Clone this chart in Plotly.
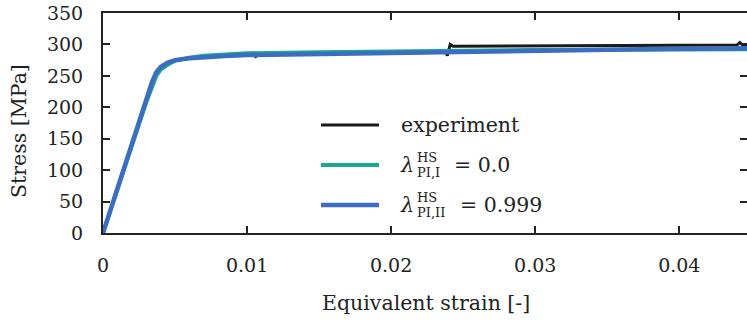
import plotly.graph_objects as go

# ---- data ----
strain_exp = [0, 0.0005, 0.001, 0.0015, 0.002, 0.0025, 0.003, 0.0033, 0.0036, 0.004,
              0.0045, 0.005, 0.006, 0.007, 0.0085, 0.0105, 0.0106, 0.0108, 0.013, 0.016,
              0.02, 0.0238, 0.0239, 0.0241, 0.0243, 0.028, 0.032, 0.036, 0.04, 0.0440,
              0.0442, 0.0444, 0.0447]
stress_exp = [0, 36, 72, 107, 142, 177, 210, 230, 250, 263,
              270, 274, 278, 280, 282, 284, 281, 284, 285, 286,
              287, 288, 282, 300, 297, 297.5, 298, 298.5, 299, 299,
              303, 299, 299]

strain_m1 = [0, 0.001, 0.002, 0.003, 0.0034, 0.0037, 0.004, 0.0045, 0.005, 0.006, 0.007,
             0.0085, 0.01, 0.015, 0.02, 0.025, 0.03, 0.035, 0.04, 0.0447]
stress_m1 = [0, 70, 140, 208, 232, 250, 260, 268, 274, 279, 282,
             284.5, 286, 287.5, 289, 290, 291, 291.5, 292, 292.5]

strain_m2 = [0, 0.001, 0.002, 0.003, 0.0034, 0.0037, 0.004, 0.0045, 0.005, 0.006, 0.007,
             0.0085, 0.01, 0.015, 0.02, 0.025, 0.03, 0.035, 0.04, 0.0447]
stress_m2 = [0, 71, 142, 213, 240, 256, 264, 271, 275, 278, 280,
             281.5, 283, 285, 287, 289, 290, 291.5, 293, 294]

x_ticks = [0, 0.01, 0.02, 0.03, 0.04]
x_tick_labels = ["0", "0.01", "0.02", "0.03", "0.04"]
y_ticks = [0, 50, 100, 150, 200, 250, 300, 350]

FONT = "DejaVu Serif, Liberation Serif, serif"
TXT = "#222"
C_EXP = "#1a1a1a"
C_M1 = "#1aa88a"
C_M2 = "#3b6dc0"

fig = go.Figure()
fig.add_trace(go.Scatter(x=strain_exp, y=stress_exp, mode="lines",
                         line=dict(color=C_EXP, width=3), showlegend=False))
fig.add_trace(go.Scatter(x=strain_m1, y=stress_m1, mode="lines",
                         line=dict(color=C_M1, width=4), showlegend=False))
fig.add_trace(go.Scatter(x=strain_m2, y=stress_m2, mode="lines",
                         line=dict(color=C_M2, width=4.5), showlegend=False))

axis_common = dict(showgrid=False, zeroline=False, showline=True, linecolor="#222",
                   linewidth=2, mirror="ticks", ticks="inside", ticklen=7,
                   tickwidth=1.5, tickcolor="#222",
                   tickfont=dict(family=FONT, size=19, color=TXT))

fig.update_xaxes(range=[0, 0.0447], tickvals=x_ticks, ticktext=x_tick_labels,
                 ticklabelstandoff=14, automargin=False, **axis_common)
fig.update_yaxes(range=[0, 350], tickvals=y_ticks, ticklabelstandoff=14,
                 automargin=False, **axis_common)

# plot area in page pixels: x 103..747, y 13..233
def px(x):
    return (x - 103) / (747 - 103)
def py(y):
    return (233 - y) / (233 - 13)

legend_rows = [
    (125, C_EXP, 3, "experiment", None, None, None, 0),
    (165, C_M1, 4, None, "HS", "PI,I", "= 0.0", 452),
    (205, C_M2, 4.5, None, "HS", "PI,II", "= 0.999", 458),
]

for y, col, lw, txt, sup, sub, rest, xr in legend_rows:
    fig.add_shape(type="line", xref="paper", yref="paper",
                  x0=px(321), x1=px(379), y0=py(y), y1=py(y),
                  line=dict(color=col, width=lw))
    if txt:
        fig.add_annotation(xref="paper", yref="paper", x=px(399), y=py(y),
                           text=txt, showarrow=False, xanchor="left", yanchor="middle",
                           font=dict(family=FONT, size=20.5, color=TXT))
    else:
        fig.add_annotation(xref="paper", yref="paper", x=px(398), y=py(y),
                           text="<i>λ</i>", showarrow=False, xanchor="left", yanchor="middle",
                           font=dict(family=FONT, size=21, color=TXT))
        fig.add_annotation(xref="paper", yref="paper", x=px(415), y=py(y - 8),
                           text=sup, showarrow=False, xanchor="left", yanchor="middle",
                           font=dict(family=FONT, size=13, color=TXT))
        fig.add_annotation(xref="paper", yref="paper", x=px(415), y=py(y + 7),
                           text=sub, showarrow=False, xanchor="left", yanchor="middle",
                           font=dict(family=FONT, size=13, color=TXT))
        fig.add_annotation(xref="paper", yref="paper", x=px(xr),
                           y=py(y), text=rest, showarrow=False, xanchor="left",
                           yanchor="middle",
                           font=dict(family=FONT, size=20.5, color=TXT))

# axis titles
fig.add_annotation(xref="paper", yref="paper", x=px(426), y=py(303),
                   text="Equivalent strain [-]", showarrow=False,
                   xanchor="center", yanchor="middle",
                   font=dict(family=FONT, size=20.5, color=TXT))
fig.add_annotation(xref="paper", yref="paper", x=px(19), y=py(131),
                   text="Stress [MPa]", showarrow=False, textangle=-90,
                   xanchor="center", yanchor="middle",
                   font=dict(family=FONT, size=20.5, color=TXT))

fig.update_layout(width=747, height=323, margin=dict(l=103, r=0, t=13, b=90),
                  plot_bgcolor="white", paper_bgcolor="white", showlegend=False)

fig.write_html("out.html", config={"displayModeBar": False},
               post_script="document.body.style.margin='0px';")
